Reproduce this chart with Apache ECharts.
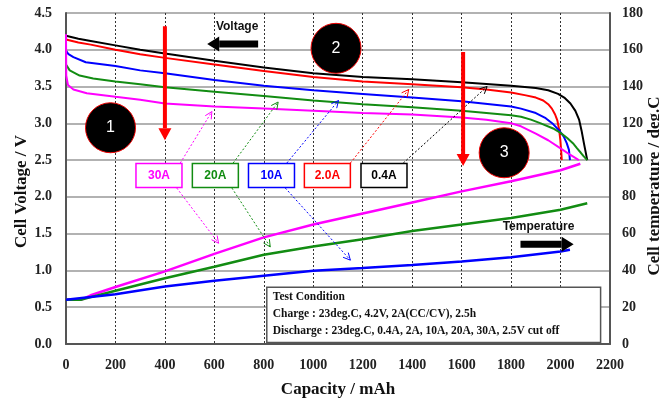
<!DOCTYPE html>
<html lang="en">
<head>
<meta charset="UTF-8">
<title>Cell Voltage / Temperature vs Capacity</title>
<script src="https://cdn.jsdelivr.net/npm/echarts@6/dist/echarts.min.js"></script>
<style>
  html, body { margin: 0; padding: 0; background: #fff; }
  #chart { width: 659px; height: 399px; }
</style>
</head>
<body>
<div id="chart"></div>
<script>
// ---- discharge curves: [capacity mAh, cell voltage V] ----
const volt04 = [[0,4.19],[50,4.15],[100,4.12],[200,4.06],[300,4.00],[400,3.95],[600,3.85],[800,3.76],[1000,3.68],[1200,3.63],[1400,3.60],[1600,3.56],[1800,3.51],[1900,3.48],[1950,3.45],[1990,3.40],[2015,3.35],[2040,3.27],[2060,3.17],[2075,3.05],[2085,2.90],[2095,2.72],[2108,2.50]]
const volt20 = [[0,4.14],[50,4.10],[100,4.07],[200,4.00],[300,3.94],[400,3.89],[600,3.80],[800,3.71],[1000,3.63],[1200,3.57],[1400,3.53],[1600,3.49],[1700,3.46],[1800,3.42],[1860,3.38],[1900,3.35],[1930,3.31],[1950,3.26],[1965,3.20],[1978,3.12],[1987,3.04],[1994,2.92],[1999,2.78],[2002,2.65],[2005,2.50]]
const volt10A = [[0,3.99],[10,3.94],[30,3.90],[80,3.83],[200,3.78],[300,3.72],[400,3.68],[600,3.59],[800,3.51],[1000,3.45],[1200,3.40],[1400,3.35],[1600,3.30],[1800,3.23],[1840,3.20],[1900,3.14],[1940,3.07],[1970,2.99],[1995,2.90],[2013,2.82],[2025,2.73],[2034,2.64],[2038,2.50]]
const volt20A = [[0,3.80],[15,3.72],[55,3.65],[110,3.61],[200,3.57],[300,3.53],[400,3.49],[600,3.43],[800,3.37],[1000,3.31],[1200,3.26],[1400,3.22],[1600,3.17],[1800,3.11],[1840,3.09],[1880,3.05],[1920,3.00],[1970,2.93],[2000,2.87],[2027,2.80],[2050,2.73],[2067,2.66],[2082,2.60],[2094,2.55],[2108,2.50]]
const volt30A = [[0,4.21],[1,3.65],[8,3.52],[30,3.46],[84,3.41],[200,3.36],[300,3.32],[400,3.27],[600,3.23],[800,3.20],[1000,3.17],[1200,3.14],[1400,3.12],[1600,3.08],[1700,3.05],[1800,3.00],[1840,2.96],[1900,2.86],[1950,2.77],[2000,2.66],[2040,2.57],[2074,2.50]]

// ---- cell temperature: [capacity mAh, deg.C] ----
const temp30A = [[0,24],[60,24],[100,26.5],[200,31],[400,39.5],[600,49],[800,58],[1000,65],[1200,71],[1400,77],[1600,83],[1800,88.5],[2000,94.5],[2080,98]]
const temp20A = [[0,24],[60,24],[100,25.5],[200,29],[400,35.8],[600,42],[800,48.5],[1000,53],[1200,57],[1400,61.5],[1600,65],[1800,68.5],[2000,73],[2108,76.5]]
const temp10A = [[0,24],[100,25.5],[200,27],[400,31.3],[600,34.4],[800,37.1],[1000,39.8],[1200,41.3],[1400,43],[1600,44.8],[1800,47.2],[2000,50.3],[2038,51.2]]

// legend boxes (current labels) and their colours
const rateNames = ['30A', '20A', '10A', '2.0A', '0.4A']
const rateColors = ['#ff00ff', '#128c12', '#0000ff', '#ff0000', '#000000']

// annotation anchors, in data units (mAh, V)
const boxCentersX = [376, 604, 831, 1057, 1286]
const boxCenterY = 2.29
const circleMarks = [['1', [180, 2.94]], ['2', [1092, 4.02]], ['3', [1772, 2.60]]]
const redArrows = [[[400, 4.32], [400, 2.77]], [[1606, 3.97], [1606, 2.42]]]
const pointerTop = [[[462, 2.46], [590, 3.16]], [[676, 2.46], [858, 3.29]], [[893, 2.46], [1102, 3.31]], [[1150, 2.46], [1386, 3.46]], [[1364, 2.46], [1703, 3.50]]]
const pointerBottom = [[[448, 2.12], [617, 1.37]], [[671, 2.12], [826, 1.32]], [[887, 2.12], [1150, 1.14]]]
const testLines = ['Test Condition', 'Charge : 23deg.C, 4.2V, 2A(CC/CV), 2.5h', 'Discharge : 23deg.C, 0.4A, 2A, 10A, 20A, 30A, 2.5V cut off']

const serif = '"Liberation Serif", "DejaVu Serif", serif'
const sans = '"Liberation Sans", Arial, sans-serif'

const lbl = { fontFamily: serif, fontWeight: 'bold', fontSize: 14, color: '#222' }
const ttl = { fontFamily: serif, fontWeight: 'bold', fontSize: 17, color: '#111' }

function line(name, data, color, yIdx, width) {
  return {
    name: name, type: 'line', data: data, yAxisIndex: yIdx,
    showSymbol: false, smooth: false,
    lineStyle: { color: color, width: width }, itemStyle: { color: color },
    z: 5
  }
}

const chart = echarts.init(document.getElementById('chart'))
chart.setOption({
  animation: false,
  grid: { left: 66, right: 49, top: 13, bottom: 55, outerBoundsMode: 'none' },
  xAxis: {
    type: 'value', min: 0, max: 2200, interval: 200,
    name: 'Capacity / mAh', nameLocation: 'middle', nameGap: 37, nameMoveOverlap: false, nameTextStyle: ttl,
    axisLine: { show: true, onZero: false, lineStyle: { color: '#555', width: 2 } },
    axisTick: { show: false },
    axisLabel: Object.assign({ margin: 14, formatter: v => String(v) }, lbl),
    splitLine: { show: true, showMinLine: false, showMaxLine: false, lineStyle: { color: '#333', width: 1, type: [2, 2] } }
  },
  yAxis: [{
    type: 'value', min: 0, max: 4.5, interval: 0.5,
    name: 'Cell Voltage / V', nameLocation: 'middle', nameGap: 36, nameMoveOverlap: false,
    nameTextStyle: Object.assign({ padding: [0, 26, 0, 0] }, ttl),
    axisLine: { show: true, lineStyle: { color: '#555', width: 2 } },
    axisTick: { show: false },
    axisLabel: Object.assign({ margin: 14, formatter: v => v.toFixed(1) }, lbl),
    splitLine: { show: true, lineStyle: { color: '#999', width: 1.5 } }
  }, {
    type: 'value', position: 'right', min: 0, max: 180, interval: 20,
    name: 'Cell temperature / deg.C', nameLocation: 'middle', nameRotate: 90, nameGap: 36, nameMoveOverlap: false,
    nameTextStyle: Object.assign({ padding: [0, 15, 0, 0] }, ttl),
    axisLine: { show: true, lineStyle: { color: '#555', width: 2 } },
    axisTick: { show: false },
    axisLabel: Object.assign({ margin: 12 }, lbl),
    splitLine: { show: false }
  }],
  series: [
    line('0.4A', volt04, rateColors[4], 0, 2),
    line('2.0A', volt20, rateColors[3], 0, 2),
    line('10A', volt10A, rateColors[2], 0, 2),
    line('20A', volt20A, rateColors[1], 0, 2),
    line('30A', volt30A, rateColors[0], 0, 2),
    line('30A temp', temp30A, rateColors[0], 1, 2.5),
    line('20A temp', temp20A, rateColors[1], 1, 2.5),
    line('10A temp', temp10A, rateColors[2], 1, 2.5)
  ]
})

// ---- annotations, placed through the axes ----
const px = p => chart.convertToPixel({ xAxisIndex: 0, yAxisIndex: 0 }, p)

function arrow(from, to, color, width, headLen, headW, dashed) {
  const a = px(from), b = px(to)
  const ang = Math.atan2(b[1] - a[1], b[0] - a[0])
  const ux = Math.cos(ang), uy = Math.sin(ang)
  const base = [b[0] - ux * headLen, b[1] - uy * headLen]
  const l = [base[0] + uy * headW / 2, base[1] - ux * headW / 2]
  const r = [base[0] - uy * headW / 2, base[1] + ux * headW / 2]
  const els = []
  if (dashed) {
    els.push({ type: 'line', z: 20, shape: { x1: a[0], y1: a[1], x2: b[0], y2: b[1] }, style: { stroke: color, lineWidth: 1, lineDash: [2, 2] } })
    els.push({ type: 'polyline', z: 20, shape: { points: [l, b, r] }, style: { stroke: color, lineWidth: 1, fill: null } })
  } else {
    els.push({ type: 'line', z: 20, shape: { x1: a[0], y1: a[1], x2: base[0], y2: base[1] }, style: { stroke: color, lineWidth: width } })
    els.push({ type: 'polygon', z: 20, shape: { points: [l, b, r] }, style: { fill: color } })
  }
  return els
}

let g = []

// test condition box
const tl = px([812, 0.77]), br = px([2162, 0.02])
g.push({ type: 'rect', z: 10, shape: { x: tl[0], y: tl[1], width: br[0] - tl[0], height: br[1] - tl[1] }, style: { fill: '#fff', stroke: '#555', lineWidth: 1.5 } })
testLines.forEach((t, i) => {
  g.push({ type: 'text', z: 11, x: tl[0] + 6, y: tl[1] + 10 + i * 17, style: { text: t, fill: '#111', font: 'bold 11.5px ' + serif, verticalAlign: 'middle' } })
})

// current labels with pointer arrows
pointerTop.forEach((p, i) => { g = g.concat(arrow(p[0], p[1], rateColors[i], 1, 7, 7, true)) })
pointerBottom.forEach((p, i) => { g = g.concat(arrow(p[0], p[1], rateColors[i], 1, 7, 7, true)) })
rateNames.forEach((n, i) => {
  const c = px([boxCentersX[i], boxCenterY])
  g.push({ type: 'rect', z: 21, shape: { x: c[0] - 23, y: c[1] - 12, width: 46, height: 24 }, style: { fill: '#fff', stroke: rateColors[i], lineWidth: 1.5 } })
  g.push({ type: 'text', z: 22, x: c[0], y: c[1], style: { text: n, fill: rateColors[i], font: 'bold 12px ' + sans, align: 'center', verticalAlign: 'middle' } })
})

// numbered circles
circleMarks.forEach(m => {
  const c = px(m[1])
  g.push({ type: 'circle', z: 25, shape: { cx: c[0], cy: c[1], r: 25 }, style: { fill: '#000', stroke: '#e00', lineWidth: 1 } })
  g.push({ type: 'text', z: 26, x: c[0], y: c[1], style: { text: m[0], fill: '#fff', font: '16px ' + sans, align: 'center', verticalAlign: 'middle' } })
})

// red downward arrows
redArrows.forEach(p => { g = g.concat(arrow(p[0], p[1], '#ff0000', 4, 12, 13, false)) })

// voltage / temperature direction arrows
g = g.concat(arrow([777, 4.08], [571, 4.08], '#000', 7, 12, 15, false))
let vt = px([692, 4.32])
g.push({ type: 'text', z: 20, x: vt[0], y: vt[1], style: { text: 'Voltage', fill: '#111', font: 'bold 12px ' + sans, align: 'center', verticalAlign: 'middle' } })
g = g.concat(arrow([1838, 1.357], [2053, 1.357], '#000', 7, 12, 15, false))
vt = px([1911, 1.59])
g.push({ type: 'text', z: 20, x: vt[0], y: vt[1], style: { text: 'Temperature', fill: '#111', font: 'bold 12px ' + sans, align: 'center', verticalAlign: 'middle' } })

chart.setOption({ graphic: g })
</script>
</body>
</html>
